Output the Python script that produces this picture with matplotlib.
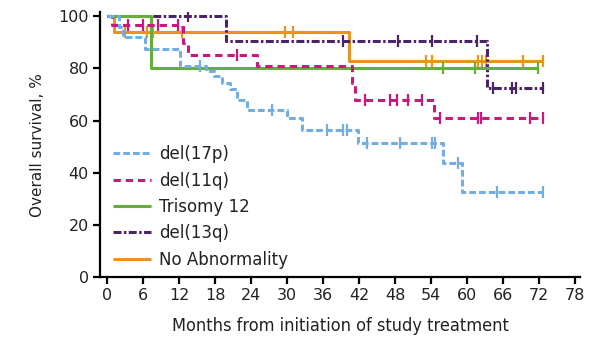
import numpy as np
import matplotlib
matplotlib.use("Agg")
import matplotlib.pyplot as plt

# Kaplan-Meier step data: event times (months) and survival (%) after each step
del17p_t = [0, 2.0, 2.6, 6.3, 12.2, 16.5, 17.8, 19.1, 20.4, 21.7, 23.3, 30.0, 32.5, 41.8, 56.0, 59.2, 72.7]
del17p_s = [100, 96, 92, 87.5, 81, 79, 77, 74.5, 72, 68, 64, 61, 56.3, 51.3, 43.7, 32.6, 32.6]
del17p_cens = [15.5, 27.5, 36.7, 39.3, 40.0, 43.3, 48.8, 54.2, 54.7, 58.5, 65.0, 72.7]

del11q_t = [0, 0.8, 12.7, 13.5, 25.0, 40.8, 41.3, 54.4, 72.7]
del11q_s = [100, 96.5, 89.7, 85, 81, 74.5, 68, 61, 61]
del11q_cens = [3.5, 6.0, 8.5, 11.8, 21.7, 43.0, 47.2, 48.3, 50.2, 52.5, 55.5, 61.8, 62.3, 70.5, 72.7]

tri12_t = [0, 7.3, 71.8]
tri12_s = [100, 80, 80]
tri12_cens = [56.0, 61.3, 71.8]

del13q_t = [0, 19.8, 63.3, 72.7]
del13q_s = [100, 90.5, 72.5, 72.5]
del13q_cens = [13.5, 39.3, 48.5, 54.2, 61.7, 64.3, 67.5, 68.2, 72.7]

noab_t = [0, 1.2, 40.3, 72.7]
noab_s = [100, 94, 83, 83]
noab_cens = [3.0, 6.7, 7.7, 12.5, 29.7, 31.0, 53.2, 54.2, 61.8, 62.5, 63.2, 69.3, 72.7]

labels = ["del(17p)", "del(11q)", "Trisomy 12", "del(13q)", "No Abnormality"]
x_ticks = list(range(0, 79, 6))
y_ticks = list(range(0, 101, 20))

series = [
    (del17p_t, del17p_s, del17p_cens, "#72aee2", (0, (2.2, 1.0))),
    (del11q_t, del11q_s, del11q_cens, "#c8197f", (0, (2.4, 1.6))),
    (tri12_t, tri12_s, tri12_cens, "#66ad3c", "-"),
    (del13q_t, del13q_s, del13q_cens, "#4a2466", (0, (2.6, 0.8, 0.8, 0.8))),
    (noab_t, noab_s, noab_cens, "#e99322", "-"),
]

fig = plt.figure(figsize=(5.9, 3.44), dpi=100)
ax = fig.add_axes([100 / 590, 0.1948, 480 / 590, 0.769])

lw = 2.2
handles = []
# draw in reverse so the blue curve sits on top of the others
for (t, s, c, col, ls), lab in reversed(list(zip(series, labels))):
    t = np.asarray(t, float)
    s = np.asarray(s, float)
    h, = ax.step(t, s, where="post", color=col, lw=lw, linestyle=ls, label=lab,
                 solid_capstyle="butt", dash_capstyle="butt")
    idx = np.searchsorted(t, np.asarray(c), side="right") - 1
    ax.plot(c, s[idx], linestyle="none", marker="|", color=col,
            markersize=8, markeredgewidth=1.6)
    handles.append(h)
handles = handles[::-1]

ax.set_xlim(-1.2, 78.8)
ax.set_ylim(0, 101.5)
ax.set_xticks(x_ticks)
ax.set_yticks(y_ticks)

for side in ("top", "right"):
    ax.spines[side].set_visible(False)
for side in ("left", "bottom"):
    ax.spines[side].set_linewidth(1.6)
ax.tick_params(axis="both", direction="out", length=5, width=1.6,
               labelsize=11.5, colors="black", pad=3)
for lab in ax.get_xticklabels() + ax.get_yticklabels():
    lab.set_color("#222222")

ax.set_xlabel("Months from initiation of study treatment", fontsize=13,
              family="DejaVu Sans", fontstretch="condensed", color="#222222",
              labelpad=10)
ax.set_ylabel("Overall survival, %", fontsize=11, color="#222222", labelpad=10)

leg = ax.legend(handles=handles, labels=labels, loc="lower left",
                bbox_to_anchor=(0.0125, 0.0064), frameon=False, fontsize=12,
                handlelength=2.3, handletextpad=0.5, labelspacing=0.5,
                borderaxespad=0.0)
for txt in leg.get_texts():
    txt.set_color("#222222")

fig.savefig("out.png", dpi=100)
